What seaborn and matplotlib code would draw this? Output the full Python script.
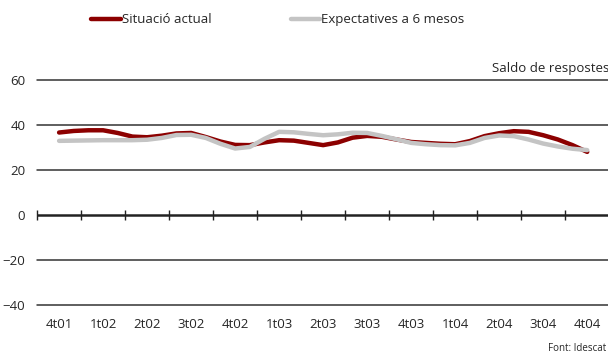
import pandas as pd
import numpy as np
import matplotlib
matplotlib.use('Agg')
import matplotlib.pyplot as plt
import seaborn as sns

# Etiquetes trimestrals de l'eix X
trimestres = ['4t01', '1t02', '2t02', '3t02', '4t02', '1t03', '2t03',
              '3t03', '4t03', '1t04', '2t04', '3t04', '4t04']

# Valors mensuals (llegits del grafic), 3 per trimestre
situacio_actual = [36.6, 37.3, 37.6, 37.6, 36.4, 34.8, 34.5, 35.2, 36.2, 36.4,
                   34.6, 32.6, 31.1, 31.0, 32.2, 33.2, 33.0, 32.0, 31.0, 32.2,
                   34.3, 35.1, 34.7, 33.5, 32.4, 32.0, 31.6, 31.4, 32.8, 35.0,
                   36.3, 37.2, 36.9, 35.4, 33.5, 31.0, 28.0]
expectatives = [32.9, 33.0, 33.1, 33.2, 33.2, 33.2, 33.4, 34.2, 35.5, 35.6,
                34.2, 31.6, 29.5, 30.2, 33.8, 36.9, 36.7, 36.0, 35.4, 35.8,
                36.5, 36.4, 35.1, 33.6, 32.0, 31.4, 31.0, 30.9, 32.0, 34.2,
                35.3, 35.0, 33.5, 31.7, 30.4, 29.4, 28.8]
series = ['Situació actual', 'Expectatives a 6 mesos']
colors = ['#8c0000', '#c4c4c4']

# posicio en unitats de trimestre (un punt per mes)
x_mes = np.arange(len(situacio_actual)) / 3.0
df = pd.DataFrame({
    'x': np.concatenate([x_mes, x_mes]),
    'valor': situacio_actual + expectatives,
    'serie': [series[0]] * len(x_mes) + [series[1]] * len(x_mes),
})

sns.set_style('white')
plt.rcParams['font.family'] = ['Open Sans', 'DejaVu Sans']

fig = plt.figure(figsize=(6.08, 3.58), dpi=100)
ax = fig.add_axes([0.061, 0.148, 0.941, 0.629])

sns.lineplot(data=df, x='x', y='valor', hue='serie', palette=colors,
             linewidth=3.2, ax=ax, legend=False, estimator=None, sort=False)

ax.set_xlim(-0.5, len(trimestres) - 0.5)
ax.set_ylim(-40, 60)
ax.set_yticks([-40, -20, 0, 20, 40, 60])
ax.set_ylabel('')
ax.set_xlabel('')
# linies de graella
for v in [-40, -20, 20, 40, 60]:
    ax.axhline(v, color='#333333', lw=1.1, zorder=0, clip_on=False)
# eix zero
ax.axhline(0, color='#222222', lw=1.8, zorder=6)

for s in ['top', 'right', 'left', 'bottom']:
    ax.spines[s].set_visible(False)

# marques entre categories, situades sobre l'eix zero
ax.set_xticks(np.arange(len(trimestres) + 1) - 0.5)
ax.set_xticklabels([])
ax.tick_params(axis='x', bottom=True, direction='inout', length=7, width=1,
               color='#222222')
ax.tick_params(axis='y', left=False, pad=5, labelsize=9.5)
for t in ax.xaxis.get_major_ticks():
    t.tick1line.set_ydata([0.4])

sec = ax.secondary_xaxis('bottom')
sec.set_xticks(range(len(trimestres)))
sec.set_xticklabels(trimestres, fontsize=9.5)
sec.tick_params(length=0, pad=9)
sec.spines['bottom'].set_visible(False)

ax.text(1.0, 1.02, 'Saldo de respostes', transform=ax.transAxes,
        ha='right', va='bottom', fontsize=9.5)
fig.text(0.997, 0.01, 'Font: Idescat', ha='right', va='bottom', fontsize=7)

handles = [plt.Line2D([], [], color=c, lw=3.2) for c in colors]
fig.legend(handles, series, loc='center', bbox_to_anchor=(0.457, 0.945),
           ncol=2, frameon=False, fontsize=9.5, handlelength=2.2,
           handletextpad=0.1, columnspacing=6.0)

fig.savefig('out.png', dpi=100)
